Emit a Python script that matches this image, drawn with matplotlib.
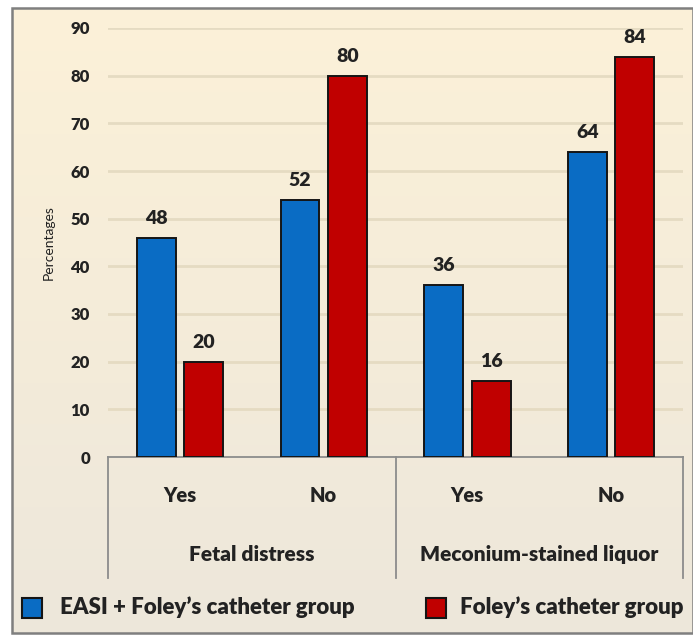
import numpy as np
import matplotlib.pyplot as plt
from matplotlib.patches import Rectangle
from matplotlib.lines import Line2D
from matplotlib.colors import LinearSegmentedColormap

plt.rcParams['font.family'] = ['Lato', 'DejaVu Sans']

# данные
groups = ['Fetal distress', 'Meconium-stained liquor']
answers = ['Yes', 'No', 'Yes', 'No']
series_names = ["EASI + Foley\u2019s catheter group", "Foley\u2019s catheter group"]
easi_heights = [46, 54, 36, 64]
easi_labels = ['48', '52', '36', '64']
foley_heights = [20, 80, 16, 84]
foley_labels = ['20', '80', '16', '84']
yticks = [0, 10, 20, 30, 40, 50, 60, 70, 80, 90]

blue = '#0A6CC4'
red = '#C00000'
txt = '#222222'
W, H = 693, 635
fw = 'heavy'

fig = plt.figure(figsize=(W / 100, H / 100), dpi=100)
fig.patch.set_facecolor('white')

# фон с градиентом и рамка
bg = fig.add_axes([12 / W, 2 / H, 1 - 12 / W, 1 - 10 / H], zorder=-5)
cmap = LinearSegmentedColormap.from_list('bg', ['#EDE7DB', '#FCF1D8'])
bg.imshow(np.linspace(0, 1, 256).reshape(-1, 1), cmap=cmap, aspect='auto',
          origin='lower', extent=[0, 1, 0, 1])
bg.set_axis_off()
fig.patches.append(Rectangle((12 / W, 2 / H), 1 - 12 / W, 1 - 10 / H,
                             transform=fig.transFigure, fill=False,
                             edgecolor='#7F7F7F', lw=1.8))

ax = fig.add_axes([108 / W, 1 - 457 / H, 575 / W, 429 / H])
ax.set_facecolor('none')

x = np.arange(len(answers))
bw = 0.27
off = 0.165
ax.bar(x - off, easi_heights, bw, color=blue, edgecolor='#151515', lw=1.4, zorder=3)
ax.bar(x + off, foley_heights, bw, color=red, edgecolor='#151515', lw=1.4, zorder=3)

for xi, h, lab in zip(x - off, easi_heights, easi_labels):
    ax.annotate(lab, (xi, h), xytext=(0, 14), textcoords='offset points',
                ha='center', va='center', fontsize=14, fontweight=fw, color=txt)
for xi, h, lab in zip(x + off, foley_heights, foley_labels):
    ax.annotate(lab, (xi, h), xytext=(0, 14), textcoords='offset points',
                ha='center', va='center', fontsize=14, fontweight=fw, color=txt)

ax.set_xlim(-0.5, 3.5)
ax.set_ylim(0, 90)
ax.set_yticks(yticks)
ax.set_yticklabels([str(t) for t in yticks], fontsize=12, fontweight=fw, color=txt)
ax.tick_params(axis='y', length=0, pad=13)
ax.set_xticks([])
for gy in yticks[1:]:
    ax.axhline(gy, color='#E5DBC2', lw=2, zorder=1)
for s in ['left', 'right', 'top']:
    ax.spines[s].set_visible(False)
ax.spines['bottom'].set_color('#8C8C8C')
ax.spines['bottom'].set_linewidth(1.3)
ax.set_ylabel('Percentages', fontsize=10, labelpad=11, color=txt)

# подписи категорий
trans = ax.get_xaxis_transform()
for xi, a in zip(x, answers):
    ax.text(xi, -0.09, a, transform=trans, ha='center', va='center',
            fontsize=14.5, fontweight=fw, color=txt)
for gi, g in enumerate(groups):
    ax.text(2 * gi + 0.5, -0.228, g, transform=trans, ha='center', va='center',
            fontsize=15, fontweight=fw, color=txt)
for lx in [-0.5, 1.5, 3.5]:
    ax.add_line(Line2D([lx, lx], [0, -0.282], transform=trans, color='#8C8C8C',
                       lw=1.3, clip_on=False))

# легенда
for sx, tx, col, name in [(22, 60, blue, series_names[0]), (426, 460, red, series_names[1])]:
    fig.patches.append(Rectangle((sx / W, 1 - 618 / H), 20 / W, 20 / H,
                                 transform=fig.transFigure, facecolor=col,
                                 edgecolor='#151515', lw=1.5))
    fig.text(tx / W, 1 - 607 / H, name, ha='left', va='center',
             fontsize=16, fontweight=fw, color=txt)

fig.savefig('out.png', dpi=100)
